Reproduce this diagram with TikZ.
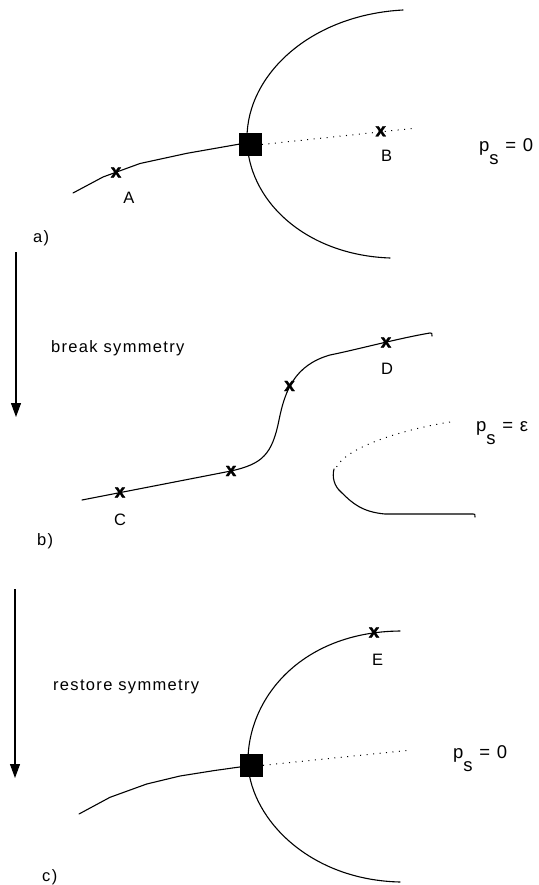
\documentclass[tikz,border=0pt]{standalone}
\usepackage{fontspec}
\setmainfont{Liberation Sans}[LetterSpace=8]
\newfontfamily\markfont{Liberation Sans Bold}[FakeBold=1.5]
\usetikzlibrary{arrows.meta}
\tikzset{
  curve/.style={line width=1.1pt, line join=round, line cap=round},
  dotline/.style={line width=1pt, dash pattern=on 1pt off 5.5pt},
  lbl/.style={inner sep=0pt, font=\fontsize{16.5}{18}\selectfont},
  psl/.style={inner sep=0pt, anchor=base west, font=\fontsize{18.5}{20}\selectfont},
  xmark/.style={inner sep=0pt, font=\markfont\fontsize{19}{20}\selectfont},
  sq/.style={fill=black, minimum size=22.5pt, inner sep=0pt},
  flowarrow/.style={line width=1.1pt, -{Triangle[length=14pt,width=10pt]}}
}
\begin{document}
\begin{tikzpicture}[x=1pt,y=-1pt]
\useasboundingbox (0,0) rectangle (538,885);

% ---------- panel a ----------
\node[sq] (sqa) at (250.5,144.5) {};
\draw[curve] (403,10) .. controls (310,15) and (247,75) .. (247,138)
             .. controls (247,200) and (305,255) .. (390,258);
\draw[curve] (73,193) -- (103,177) -- (140,163.5) -- (187,153.3) -- (240,144) -- (sqa.center);
\coordinate (enda) at (417,128);
\draw[dotline] (sqa.east) -- (enda);
\node[xmark] (xa) at (116,172.5) {x};
\node[xmark] (xb) at (380.7,131.3) {x};
\node[lbl] (la) at (129,197.5) {A};
\node[lbl] (lb) at (386.7,155.8) {B};
\node[psl] (psa) at (479,152) {p\raisebox{-13pt}{s} = 0};
\node[lbl, anchor=base west] (pa) at (33,242) {a)};

% ---------- arrow 1 ----------
\coordinate (a1s) at (16,252);
\coordinate (a1e) at (16,417);
\draw[flowarrow] (a1s) -- (a1e);
\node[lbl, anchor=base west] (brk) at (51,352) {break symmetry};

% ---------- panel b ----------
\draw[curve] (82,500) -- (231,471) .. controls (262,464) and (272,455) .. (279,420)
   .. controls (285,390) and (295,365) .. (330,355)
   .. controls (355,350) and (400,338) .. (430,333) .. controls (432,333) .. (432,336);
\node[xmark] (xc) at (120,492.5) {x};
\node[xmark] (xm1) at (231,471) {x};
\node[xmark] (xm2) at (289.5,386) {x};
\node[xmark] (xd) at (386,342.5) {x};
\node[lbl] (lc) at (120,520) {C};
\node[lbl] (ld) at (387,368.5) {D};
\draw[dotline] (450,422) .. controls (400,430) and (345,448) .. (336,468);
\draw[curve] (334,469) .. controls (332,477) and (334,486) .. (341,492)
   .. controls (352,503) and (362,512) .. (385,514) -- (473,514) .. controls (475,514) .. (475,517);
\node[psl] (psb) at (476,431) {p\raisebox{-13pt}{s} = ε};
\node[lbl, anchor=base west] (pb) at (37,545) {b)};

% ---------- arrow 2 ----------
\coordinate (a2s) at (15,589);
\coordinate (a2e) at (15,778);
\draw[flowarrow] (a2s) -- (a2e);
\node[lbl, anchor=base west] (rst) at (53,690) {restore symmetry};

% ---------- panel c ----------
\node[sq] (sqc) at (251.7,765.3) {};
\draw[curve] (400,631) .. controls (300,632) and (246,700) .. (248,765)
   .. controls (252,820) and (310,880) .. (400,882);
\draw[curve] (79,814) -- (110,797.3) -- (146.7,784) -- (180,776) -- (213.3,770.7) -- (sqc.center);
\coordinate (endc) at (411.7,750);
\draw[dotline] (sqc.east) -- (endc);
\node[xmark] (xe) at (374,632.5) {x};
\node[lbl] (le) at (377.7,660) {E};
\node[psl] (psc) at (453,758) {p\raisebox{-13pt}{s} = 0};
\node[lbl, anchor=base west] (pc) at (42,881) {c)};
\end{tikzpicture}
\end{document}
